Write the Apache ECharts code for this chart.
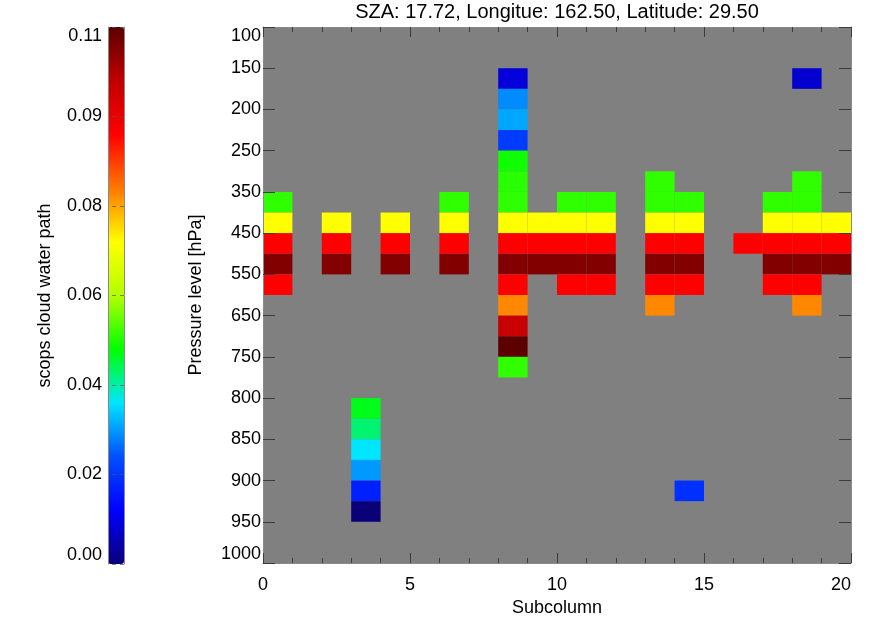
<!DOCTYPE html>
<html>
<head>
<meta charset="utf-8">
<script src="https://cdn.jsdelivr.net/npm/echarts@6/dist/echarts.min.js"></script>
<style>html,body{margin:0;padding:0;background:#fff}#c{width:876px;height:620px}</style>
</head>
<body>
<div id="c"></div>
<script>
// ---- data ----
const titleText = 'SZA: 17.72, Longitue: 162.50, Latitude: 29.50';
const pressureTickLabels = ['100','150','200','250','350','450','550','650','750','800','850','900','950','1000'];
const colorbarTickLabels = ['0.00','0.02','0.04','0.06','0.08','0.09','0.11'];
const nSubcolumns = 20;
const nLevels = 26;
const cwpMin = 0;
const cwpMax = 0.1125;
// [subcolumn, level index (0 = top), scops cloud water path]
const cells = [
  [0,8,0.048],[0,9,0.0675],[0,10,0.09],[0,11,0.108],[0,12,0.09],
  [2,9,0.0675],[2,10,0.09],[2,11,0.108],
  [3,18,0.0439],[3,19,0.040],[3,20,0.0338],[3,21,0.028],[3,22,0.0158],[3,23,0.0],
  [4,9,0.0675],[4,10,0.09],[4,11,0.108],
  [6,8,0.048],[6,9,0.0675],[6,10,0.09],[6,11,0.108],
  [8,2,0.0083],[8,3,0.027],[8,4,0.029],[8,5,0.0197],[8,6,0.046],[8,7,0.0475],[8,8,0.048],
  [8,9,0.0675],[8,10,0.09],[8,11,0.108],[8,12,0.09],[8,13,0.0774],[8,14,0.1],[8,15,0.112],[8,16,0.048],
  [9,9,0.0675],[9,10,0.09],[9,11,0.108],
  [10,8,0.048],[10,9,0.0675],[10,10,0.09],[10,11,0.108],[10,12,0.09],
  [11,8,0.048],[11,9,0.0675],[11,10,0.09],[11,11,0.108],[11,12,0.09],
  [13,7,0.048],[13,8,0.048],[13,9,0.0675],[13,10,0.09],[13,11,0.108],[13,12,0.09],[13,13,0.0774],
  [14,8,0.048],[14,9,0.0675],[14,10,0.09],[14,11,0.108],[14,12,0.09],[14,22,0.018],
  [16,10,0.09],
  [17,8,0.048],[17,9,0.0675],[17,10,0.09],[17,11,0.108],[17,12,0.09],
  [18,2,0.0073],[18,7,0.048],[18,8,0.048],[18,9,0.0675],[18,10,0.09],[18,11,0.108],[18,12,0.09],[18,13,0.0774],
  [19,9,0.0675],[19,10,0.09],[19,11,0.108]
];
const colorStops = ['#0a0078','#0000ff','#0050ff','#00e6ff','#00ff00','#b4ff00','#ffff00','#ff7800','#ff0000','#c00000','#5a0000'];

// ---- chart ----
const FONT = "'Liberation Sans', Arial, sans-serif";
const chart = echarts.init(document.getElementById('c'), null, {renderer: 'canvas'});
const lineC = '#8a8a8a', tickC = '#3c3c3c';
const cbStep = (cwpMax - cwpMin) / 6;

chart.setOption({
  animation: false,
  backgroundColor: '#ffffff',
  textStyle: {fontFamily: FONT},
  title: {
    text: titleText, left: 557, top: 2, padding: 0, textAlign: 'center',
    textStyle: {fontSize: 20, fontWeight: 'normal', color: '#000', fontFamily: FONT}
  },
  grid: [
    {left: 263, right: 25, top: 27, bottom: 57, show: true, backgroundColor: '#808080', borderWidth: 0,
     containLabel: false, outerBoundsMode: 'none'},
    {left: 108, top: 27, width: 16, height: 537, show: false, containLabel: false, outerBoundsMode: 'none'}
  ],
  visualMap: {
    type: 'continuous', min: cwpMin, max: cwpMax, seriesIndex: 0, dimension: 2,
    left: 108, top: 27, itemWidth: 16, itemHeight: 537, padding: 0,
    calculable: false, hoverLink: false, realtime: false, text: null, showLabel: false,
    inRange: {color: colorStops}
  },
  xAxis: [
    {type: 'value', gridIndex: 0, min: 0, max: nSubcolumns, interval: 5, position: 'bottom', z: 10,
     axisLine: {show: true, onZero: false, lineStyle: {color: lineC, width: 1}},
     axisTick: {show: true, inside: true, length: 10, lineStyle: {color: tickC}},
     minorTick: {show: true, splitNumber: 5, length: 5, lineStyle: {color: tickC}},
     splitLine: {show: false},
     axisLabel: {fontSize: 18, color: '#000', margin: 13, fontFamily: FONT, alignMaxLabel: 'right'},
     name: 'Subcolumn', nameLocation: 'middle', nameGap: 31,
     nameTextStyle: {fontSize: 18, color: '#000', fontFamily: FONT}},
    {type: 'value', gridIndex: 0, min: 0, max: nSubcolumns, interval: 5, position: 'top', z: 10,
     axisLine: {show: true, onZero: false, lineStyle: {color: lineC, width: 1}},
     axisTick: {show: true, inside: true, length: 10, lineStyle: {color: tickC}},
     minorTick: {show: true, splitNumber: 5, length: 5, lineStyle: {color: tickC}},
     splitLine: {show: false}, axisLabel: {show: false}},
    {type: 'value', gridIndex: 1, min: 0, max: 1, show: false}
  ],
  yAxis: [
    {type: 'value', gridIndex: 0, min: 0, max: nLevels, interval: 2, inverse: true, position: 'left', z: 10,
     axisLine: {show: true, onZero: false, lineStyle: {color: lineC, width: 1}},
     axisTick: {show: true, inside: true, length: 12, lineStyle: {color: tickC}},
     splitLine: {show: false},
     axisLabel: {fontSize: 18, color: '#000', margin: 2, fontFamily: FONT,
       verticalAlignMinLabel: 'top', verticalAlignMaxLabel: 'bottom',
       formatter: v => pressureTickLabels[Math.round(v / 2)]},
     name: 'Pressure level [hPa]', nameLocation: 'middle', nameGap: 58, nameRotate: 90,
     nameTextStyle: {fontSize: 18, color: '#000', fontFamily: FONT}},
    {type: 'value', gridIndex: 0, min: 0, max: nLevels, interval: 2, inverse: true, position: 'right', z: 10,
     axisLine: {show: true, onZero: false, lineStyle: {color: lineC, width: 1}},
     axisTick: {show: true, inside: true, length: 12, lineStyle: {color: tickC}},
     splitLine: {show: false}, axisLabel: {show: false}},
    {type: 'value', gridIndex: 1, min: cwpMin, max: cwpMax, interval: cbStep, position: 'left', z: 10,
     axisLine: {show: true, onZero: false, lineStyle: {color: lineC, width: 1}},
     axisTick: {show: false}, splitLine: {show: false},
     axisLabel: {fontSize: 18, color: '#000', margin: 6, fontFamily: FONT,
       verticalAlignMinLabel: 'bottom', verticalAlignMaxLabel: 'top',
       formatter: v => colorbarTickLabels[Math.round((v - cwpMin) / cbStep)]},
     name: 'scops cloud water path', nameLocation: 'middle', nameGap: 54, nameRotate: 90,
     nameTextStyle: {fontSize: 18, color: '#000', fontFamily: FONT}},
    {type: 'value', gridIndex: 1, min: cwpMin, max: cwpMax, interval: cbStep, position: 'right', z: 10,
     axisLine: {show: true, onZero: false, lineStyle: {color: lineC, width: 1}},
     axisTick: {show: true, inside: true, length: 16, lineStyle: {color: '#555', type: [4, 4], opacity: 0.7}},
     splitLine: {show: false}, axisLabel: {show: false}}
  ],
  series: [{
    type: 'custom', xAxisIndex: 0, yAxisIndex: 0, clip: true,
    encode: {x: 0, y: 1},
    data: cells,
    renderItem: function (params, api) {
      const c = api.value(0), r = api.value(1);
      const p0 = api.coord([c, r]);
      const p1 = api.coord([c + 1, r + 1]);
      return {
        type: 'rect',
        shape: {x: Math.min(p0[0], p1[0]), y: Math.min(p0[1], p1[1]),
                width: Math.abs(p1[0] - p0[0]), height: Math.abs(p1[1] - p0[1])},
        style: {fill: api.visual('color'), stroke: null}
      };
    }
  }]
});
</script>
</body>
</html>
